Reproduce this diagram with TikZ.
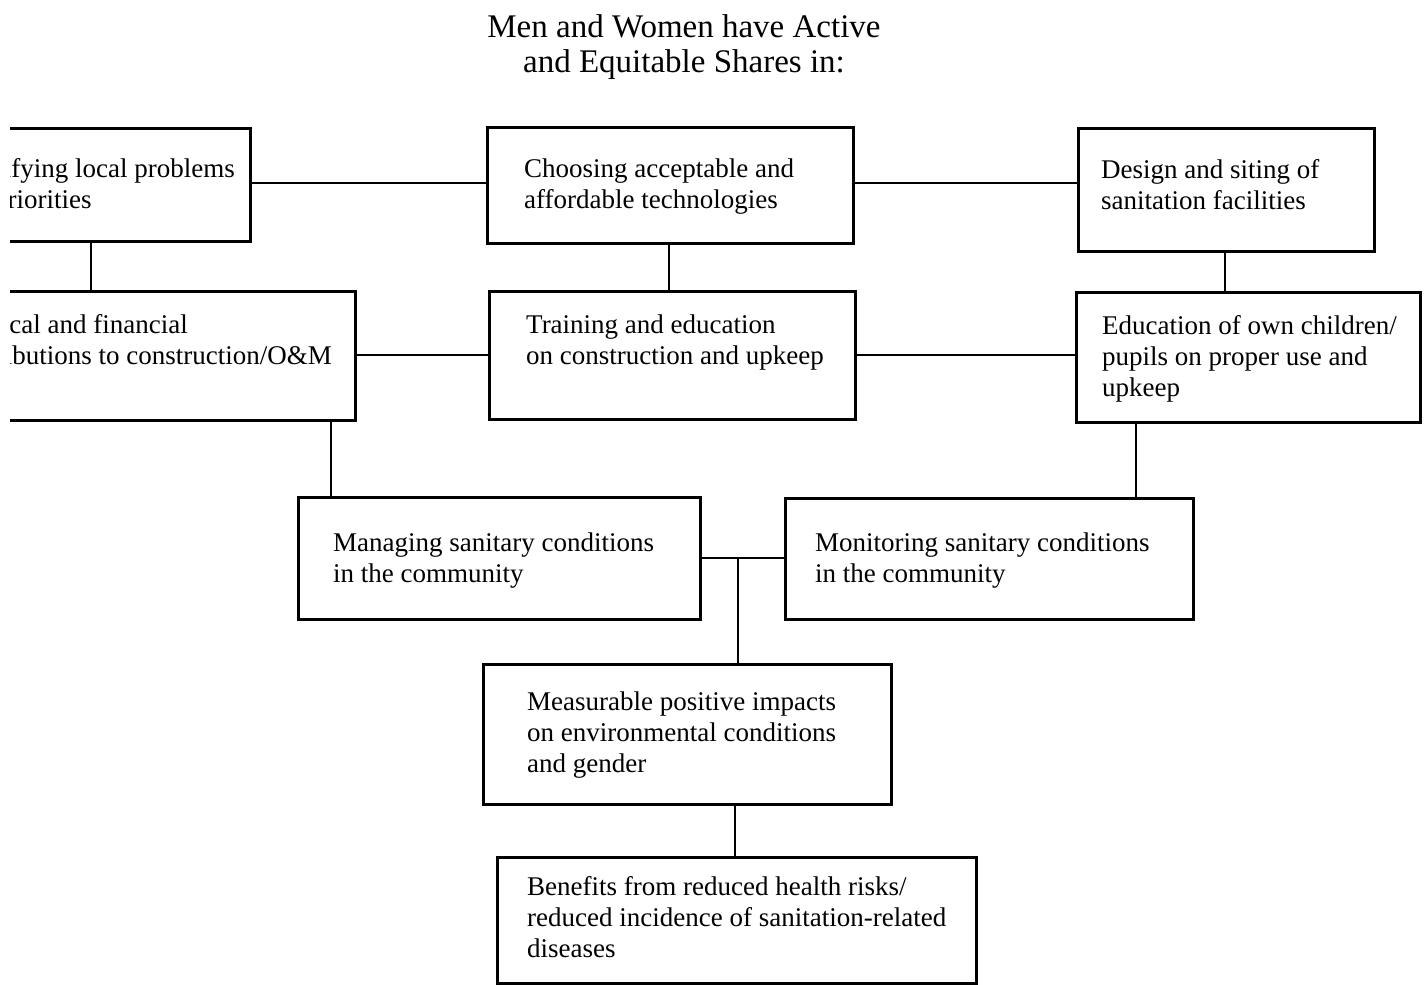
\documentclass[tikz,border=0pt]{standalone}
\usepackage{fontspec}
\setmainfont{Liberation Serif}
\begin{document}
\begin{tikzpicture}[x=1pt,y=-1pt,
  box/.style={draw,line width=3pt,inner sep=0pt},
  conn/.style={line width=2.6pt},
  txt/.style={inner sep=0pt,align=left,font=\fontsize{27}{31}\selectfont},
  ttl/.style={inner sep=0pt,align=center,font=\fontsize{33}{35}\selectfont}]
\useasboundingbox (0,0) rectangle (1428,985);
\fill[white] (0,0) rectangle (1428,985);
% title
\node[ttl,anchor=base] (title) at (684,72) {Men and Women have Active\\and Equitable Shares in:};
% cut boxes on the left
\begin{scope}
\clip (10,0) rectangle (1428,985);
\draw[box] (-200,128) rectangle (250,241);
\draw[box] (-200,291) rectangle (355,420);
\node[txt,anchor=base east] (ta) at (235,208) {Identifying local problems\\and priorities};
\node[txt,anchor=base east] (td) at (332,364) {Physical and financial\\contributions to construction/O\&M};
\end{scope}
\coordinate (Ar) at (250,183);
\coordinate (Ab) at (91,241);
\coordinate (Dt) at (91,291);
\coordinate (Dr) at (355,355);
\coordinate (Db) at (331,420);
% boxes
\node[box,minimum width=366pt,minimum height=116pt] (B) at (670,185) {};
\node[box,minimum width=296pt,minimum height=123pt] (C) at (1226,189.5) {};
\node[box,minimum width=366pt,minimum height=128pt] (E) at (672,355) {};
\node[box,minimum width=344pt,minimum height=130pt] (F) at (1248,357) {};
\node[box,minimum width=402pt,minimum height=122pt] (G) at (499,558) {};
\node[box,minimum width=408pt,minimum height=121pt] (H) at (989,558.5) {};
\node[box,minimum width=408pt,minimum height=140pt] (I) at (687,734) {};
\node[box,minimum width=479pt,minimum height=126pt] (J) at (736.5,920) {};
% texts (anchor = baseline of last line)
\node[txt,anchor=base west] (tb) at (524,208) {Choosing acceptable and\\affordable technologies};
\node[txt,anchor=base west] (tc) at (1101,209) {Design and siting of\\sanitation facilities};
\node[txt,anchor=base west] (te) at (526,364) {Training and education\\on construction and upkeep};
\node[txt,anchor=base west] (tf) at (1102,396) {Education of own children/\\pupils on proper use and\\upkeep};
\node[txt,anchor=base west] (tg) at (333,582) {Managing sanitary conditions\\in the community};
\node[txt,anchor=base west] (th) at (815,582) {Monitoring sanitary conditions\\in the community};
\node[txt,anchor=base west] (ti) at (527,772) {Measurable positive impacts\\on environmental conditions\\and gender};
\node[txt,anchor=base west] (tj) at (527,957) {Benefits from reduced health risks/\\reduced incidence of sanitation-related\\diseases};
% connector x positions
\coordinate (xbe) at (669,0);
\coordinate (xcf) at (1225,0);
\coordinate (xfh) at (1136,0);
\coordinate (jn) at (738,558);
\coordinate (xij) at (735,0);
% connectors
\draw[conn] (Ar) -- (B.west |- Ar);
\draw[conn] (B.east |- Ar) -- (C.west |- Ar);
\draw[conn] (Ab) -- (Dt);
\draw[conn] (B.south -| xbe) -- (E.north -| xbe);
\draw[conn] (C.south -| xcf) -- (F.north -| xcf);
\draw[conn] (Dr) -- (E.west |- Dr);
\draw[conn] (E.east) -- (F.west |- E.east);
\draw[conn] (Db) -- (G.north -| Db);
\draw[conn] (F.south -| xfh) -- (H.north -| xfh);
\draw[conn] (G.east) -- (H.west |- G.east);
\draw[conn] (jn) -- (I.north -| jn);
\draw[conn] (I.south -| xij) -- (J.north -| xij);
\end{tikzpicture}
\end{document}
